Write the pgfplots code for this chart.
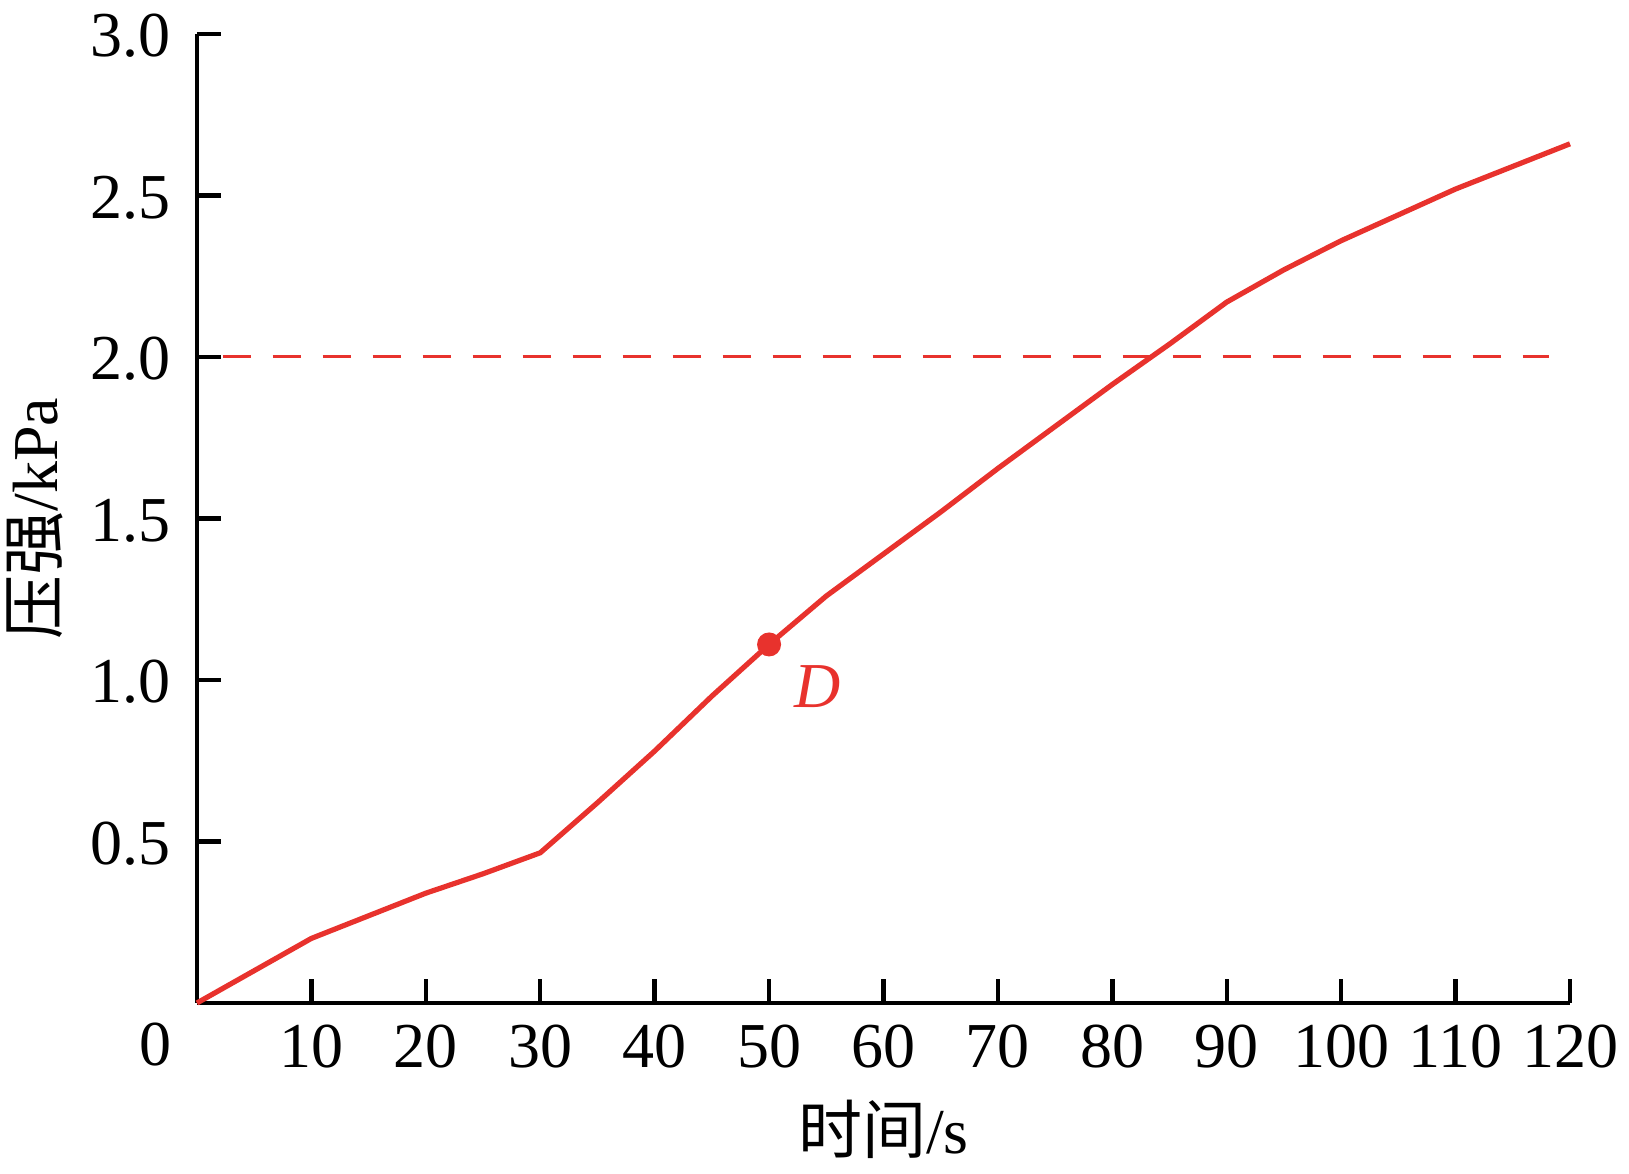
\documentclass[border=0pt]{standalone}
\usepackage{fontspec}
\setmainfont{Liberation Serif}
\newfontfamily\cjk{Noto Sans CJK SC}
\usepackage{pgfplots}
\pgfplotsset{compat=1.18}
\definecolor{cred}{RGB}{232,50,45}
\begin{document}
\begin{tikzpicture}
\useasboundingbox (-49.25pt,-42.75pt) rectangle (358pt,250.75pt);
\begin{axis}[
  at={(0,0)}, anchor=south west,
  scale only axis,
  width=343.25pt, height=242.25pt,
  xmin=0, xmax=120, ymin=0, ymax=3,
  axis x line*=bottom, axis y line*=left,
  axis line style={line width=1.2pt, black, -},
  xtick={10,20,...,120},
  ytick={0.5,1.0,...,3.0},
  yticklabel style={/pgf/number format/fixed, /pgf/number format/fixed zerofill, /pgf/number format/precision=1},
  /pgf/number format/assume math mode=true,
  tick style={line width=1.1pt, black},
  major tick length=6pt,
  tick align=inside,
  every tick label/.append style={font=\fontsize{16}{19}\selectfont},
  xticklabel style={yshift=-2pt},
  yticklabel style={xshift=-3.2pt, yshift=-0.5pt},
  xlabel={{\cjk 时间}/s},
  ylabel={{\cjk 压强}/kPa},
  label style={font=\fontsize{16}{19}\selectfont},
  xlabel style={at={(axis description cs:0.5,0)}, anchor=north, yshift=-24pt, inner sep=0pt},
  ylabel style={at={(axis description cs:-0.118,0.5)}, anchor=center},
  clip=false,
]
\addplot[cred, line width=0.75pt, dash pattern=on 7pt off 5.5pt, dash phase=-5pt] coordinates {(0.5,2.0) (118.2,2.0)};
\addplot[cred, line width=1.3pt, line join=round] coordinates {
(0,0) (5,0.10) (10,0.20) (15,0.27) (20,0.34) (25,0.40) (30,0.465)
(35,0.62) (40,0.78) (45,0.95) (50,1.11) (55,1.26) (60,1.39) (65,1.52)
(70,1.655) (75,1.785) (80,1.915) (85,2.04) (90,2.17) (95,2.27) (100,2.36)
(105,2.44) (110,2.52) (115,2.59) (120,2.66)};
\addplot[cred, only marks, mark=*, mark size=2.8pt, mark options={fill=cred, draw=cred}] coordinates {(50,1.11)};
\node[text=cred, font=\fontsize{16}{19}\selectfont\itshape] at (axis cs:54.2,0.98) {D};
\node[anchor=north, font=\fontsize{16}{19}\selectfont, inner sep=0pt] at (axis cs:0,0) [xshift=-10.25pt, yshift=-4.7pt] {0};
\end{axis}
\end{tikzpicture}
\end{document}
